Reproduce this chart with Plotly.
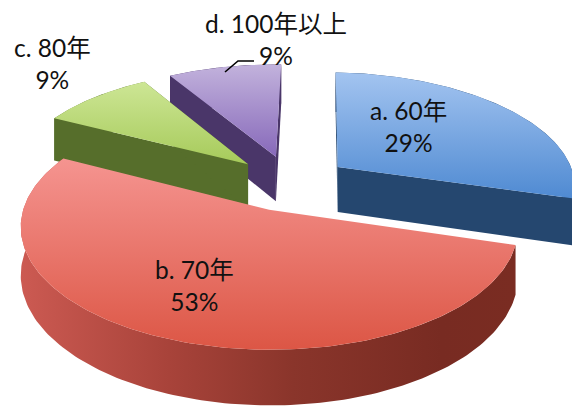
import numpy as np
import plotly.graph_objects as go

categories = ["a. 60年", "b. 70年", "c. 80年", "d. 100年以上"]
values = [29, 53, 9, 9]
top_colors = [["#a3c4f0", "#4f8ad2"], ["#f59490", "#dc5645"], ["#cde695", "#a6ca5a"], ["#c2b2dc", "#8769ba"]]
side_colors = ["#25476f", "#8f362d", "#566e2b", "#4a3669"]
rim_scale = {1: [[0, "#cc5a52"], [0.3, "#a8433a"], [0.55, "#8a352b"], [0.85, "#782b22"], [1, "#7a2c22"]]}
label_pos = [(408, 126), (194, 285), (52, 63), (276, 39)]

CX, CY, VX, RX, RY, K, DEPTH, EXPLODE, ROT = 291, 183, 261, 238, 112, 0.14, 46, 0.25, 2


def project(x, y, z=0.0):
    x, y = np.asarray(x, float), np.asarray(y, float)
    p = 1 / (1 - K * y)
    return VX + (CX - VX + RX * x) * p, CY + (RY * y + DEPTH * z) * p


def poly(xy, **kw):
    return go.Scatter(x=np.r_[xy[0], xy[0][0]], y=np.r_[xy[1], xy[1][0]], mode="lines",
                      fill="toself", line=dict(width=0), hoverinfo="skip", showlegend=False, **kw)


fractions = np.array(values) / sum(values)
edges = np.radians(ROT + 360 * np.r_[0, np.cumsum(fractions)])
traces = {}
for i in range(len(values)):
    a0, a1 = edges[i], edges[i + 1]
    mid = (a0 + a1) / 2
    ox, oy = EXPLODE * np.sin(mid), -EXPLODE * np.cos(mid)
    t = np.linspace(a0, a1, 160)
    ax, ay = ox + np.sin(t), oy - np.cos(t)
    group = []
    # outer rim
    tx, ty = project(ax, ay, 0)
    bx, by = project(ax, ay, 1)
    rim = (np.r_[tx, bx[::-1]], np.r_[ty, by[::-1]])
    if i in rim_scale:
        group.append(poly(rim, fillgradient=dict(type="horizontal", colorscale=rim_scale[i])))
    else:
        group.append(poly(rim, fillcolor=side_colors[i]))
    # radial faces
    for e in (0, -1):
        fx = [ox, ax[e], ax[e], ox]
        fy = [oy, ay[e], ay[e], oy]
        fz = [0, 0, 1, 1]
        sx, sy = zip(*[project(a, b, c) for a, b, c in zip(fx, fy, fz)])
        if i != 1:
            group.append(poly((np.array(sx), np.array(sy)), fillcolor=side_colors[i]))
    # top face
    px, py = project(np.r_[ox, ax], np.r_[oy, ay], 0)
    group.append(poly((px, py), fillgradient=dict(
        type="vertical", colorscale=[[0, top_colors[i][1]], [1, top_colors[i][0]]])))
    traces[i] = group

fig = go.Figure()
for i in (3, 2, 0, 1):
    fig.add_traces(traces[i])

for cat, val, (x, y) in zip(categories, values, label_pos):
    fig.add_annotation(x=x, y=y, text=f"{cat}<br>{val}%", showarrow=False, xref="x", yref="y",
                       font=dict(family="Lato, 'Noto Sans CJK JP', sans-serif", size=24.5, color="#111111"))
fig.add_trace(go.Scatter(x=[225, 238, 254], y=[72, 61, 61], mode="lines", line=dict(color="black", width=1.6),
                         hoverinfo="skip", showlegend=False))

fig.update_layout(width=572, height=407, margin=dict(l=0, r=0, t=0, b=0), paper_bgcolor="white",
                  plot_bgcolor="white", showlegend=False,
                  xaxis=dict(range=[0, 572], visible=False, fixedrange=True),
                  yaxis=dict(range=[407, 0], visible=False, fixedrange=True))
fig.write_html("out.html", config={"displayModeBar": False},
               post_script="document.body.style.margin='0';document.documentElement.style.overflow='hidden';")
